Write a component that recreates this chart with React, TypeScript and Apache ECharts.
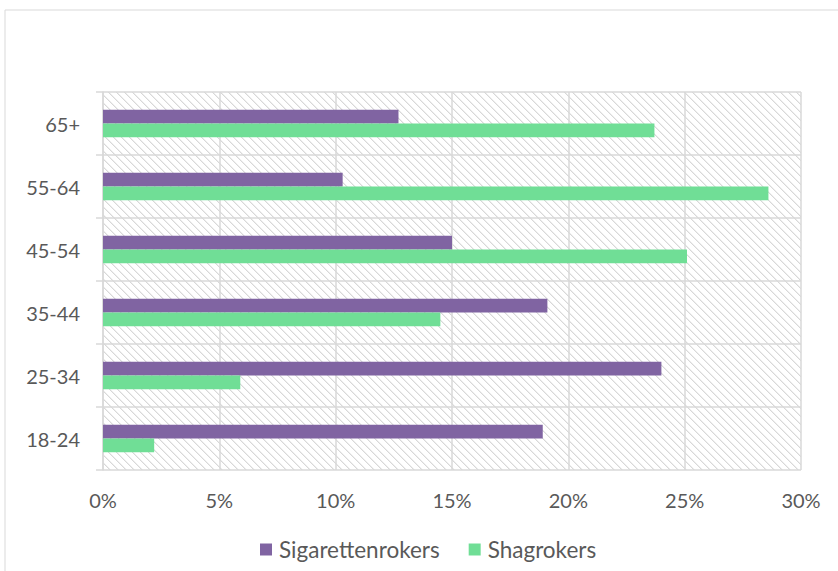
import React, { useEffect, useRef } from "react";
import * as echarts from "echarts";

const categories = ["18-24", "25-34", "35-44", "45-54", "55-64", "65+"];
const sigarettenrokers = [0.189, 0.24, 0.191, 0.15, 0.103, 0.127];
const shagrokers = [0.022, 0.059, 0.145, 0.251, 0.286, 0.237];
const seriesNames = ["Sigarettenrokers", "Shagrokers"];
const xTicks = { min: 0, max: 0.3, interval: 0.05 };

function makeHatch(): HTMLCanvasElement {
  const c = document.createElement("canvas");
  c.width = 8;
  c.height = 8;
  const ctx = c.getContext("2d")!;
  ctx.fillStyle = "#ffffff";
  ctx.fillRect(0, 0, 8, 8);
  for (let i = 0; i < 8; i++) {
    ctx.fillStyle = "#d8d8d8";
    ctx.fillRect(i, i, 1, 1);
    ctx.fillStyle = "#eeeeee";
    ctx.fillRect((i + 1) % 8, i, 1, 1);
  }
  return c;
}

export default function App() {
  const ref = useRef<HTMLDivElement>(null);
  useEffect(() => {
    if (!ref.current) return;
    const chart = echarts.init(ref.current, undefined, { renderer: "svg" });
    const font = "Lato, 'Open Sans', sans-serif";
    const grey = "#d9d9d9";
    chart.setOption({
      animation: false,
      backgroundColor: "#ffffff",
      textStyle: { fontFamily: font },
      graphic: [
        {
          type: "rect",
          shape: { x: 5, y: 10, width: 900, height: 700 },
          style: { fill: "none", stroke: grey, lineWidth: 1 },
          z: -10,
          silent: true,
        },
      ],
      grid: {
        left: 103,
        right: 37,
        top: 92,
        bottom: 101,
        show: true,
        borderWidth: 0,
        backgroundColor: { image: makeHatch(), repeat: "repeat" },
      },
      legend: {
        data: seriesNames,
        top: 533,
        left: 255,
        itemWidth: 12,
        itemHeight: 12,
        itemGap: 29,
        icon: "rect",
        textStyle: { fontSize: 22.5, color: "#595959", fontFamily: font, padding: [0, 0, 0, 2] },
      },
      xAxis: {
        type: "value",
        min: xTicks.min,
        max: xTicks.max,
        interval: xTicks.interval,
        axisLine: { show: false },
        axisTick: { show: false },
        splitLine: { show: true, lineStyle: { color: grey, width: 1.5 } },
        axisLabel: {
          margin: 20,
          fontSize: 20,
          color: "#595959",
          fontFamily: font,
          formatter: (v: number) => Math.round(v * 100) + "%",
        },
      },
      yAxis: {
        type: "category",
        data: categories,
        boundaryGap: true,
        axisLine: { show: true, lineStyle: { color: grey, width: 1.5 } },
        axisTick: { show: true, length: 7, lineStyle: { color: grey, width: 1.5 } },
        splitLine: { show: true, lineStyle: { color: grey, width: 1.5 } },
        axisLabel: { margin: 23, fontSize: 20, color: "#595959", fontFamily: font },
      },
      series: [
        {
          name: seriesNames[0],
          type: "bar",
          data: sigarettenrokers,
          itemStyle: { color: "#8064a2" },
          barGap: "0%",
          barCategoryGap: "56%",
        },
        {
          name: seriesNames[1],
          type: "bar",
          data: shagrokers,
          itemStyle: { color: "#70de96" },
          barGap: "0%",
          barCategoryGap: "56%",
        },
      ],
    });
    return () => chart.dispose();
  }, []);
  return (
    <div
      ref={ref}
      style={{ position: "fixed", left: 0, top: 0, width: 838, height: 571 }}
    />
  );
}
